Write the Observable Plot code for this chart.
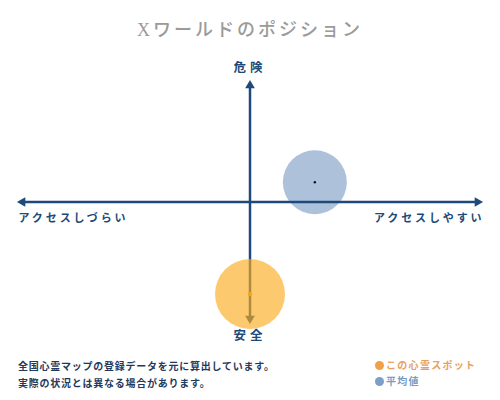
<!DOCTYPE html>
<html><head><meta charset="utf-8">
<script src="https://cdn.jsdelivr.net/npm/d3@7"></script>
<script src="https://cdn.jsdelivr.net/npm/@observablehq/plot@0.6"></script>
<style>
body{margin:0;width:500px;height:400px;background:#fff;overflow:hidden;font-family:"Liberation Serif","Noto Sans CJK JP",serif;}
#title{height:50px;text-align:center;font-size:18px;letter-spacing:3px;color:#9a9a9a;line-height:60px;font-weight:500;}
#chart{height:300px;}
#foot{position:relative;height:50px;font-family:"Noto Sans CJK JP",sans-serif;}
#note{position:absolute;left:18px;top:7px;font-size:10px;line-height:17px;letter-spacing:0.75px;color:#1f3a5c;font-weight:700;}
#legend{position:absolute;left:375px;top:7px;font-size:10px;line-height:16px;letter-spacing:1.3px;font-weight:700;}
.sw{display:inline-block;width:9px;height:9px;border-radius:50%;margin-right:2px;vertical-align:-1px;}
</style></head>
<body>
<div id="title">Xワールドのポジション</div>
<div id="chart"></div>
<div id="foot">
<div id="note">全国心霊マップの登録データを元に算出しています。<br>実際の状況とは異なる場合があります。</div>
<div id="legend"></div>
</div>
<script>
// --- data ---
const titleText = "Xワールドのポジション";
const axisExtent = [-1, 1];
const yLabels = ["危険", "安全"];          // top, bottom
const xLabels = ["アクセスしづらい", "アクセスしやすい"]; // left, right
const seriesNames = ["この心霊スポット", "平均値"];
const spotX = [0];      // this spot (access)
const spotY = [-0.79];  // this spot (danger)
const avgX = [0.285];   // average (access)
const avgY = [0.17];    // average (danger)
const noteLines = ["全国心霊マップの登録データを元に算出しています。", "実際の状況とは異なる場合があります。"];

const navy = "#1d4a78";
const orange = "#fcac20";
const blue = "#adc2da";

const spot = spotX.map((x, i) => ({x, y: spotY[i]}));
const avg = avgX.map((x, i) => ({x, y: avgY[i]}));
const arrowHeads = [
  {x: axisExtent[1], y: 0, rot: 90},
  {x: axisExtent[0], y: 0, rot: -90},
  {x: 0, y: axisExtent[1], rot: 0},
  {x: 0, y: axisExtent[0], rot: 180}
];

const chart = Plot.plot({
  width: 500,
  height: 300,
  marginLeft: 22,
  marginRight: 23,
  marginTop: 35,
  marginBottom: 32,
  x: {domain: axisExtent, axis: null},
  y: {domain: axisExtent, axis: null},
  style: {fontFamily: "'Noto Sans CJK JP', sans-serif", overflow: "visible"},
  marks: [
    Plot.dot(avg, {x: "x", y: "y", r: 32, fill: blue, stroke: "none"}),
    Plot.ruleY([0], {x1: axisExtent[0], x2: axisExtent[1], stroke: navy, strokeWidth: 2.5}),
    Plot.ruleX([0], {y1: axisExtent[0], y2: axisExtent[1], stroke: navy, strokeWidth: 2.5}),
    Plot.dot(arrowHeads, {x: "x", y: "y", rotate: "rot", symbol: "triangle", r: 3.6, fill: navy, stroke: "none"}),
    Plot.dot(spot, {x: "x", y: "y", r: 35, fill: orange, fillOpacity: 0.65, stroke: "none"}),
    Plot.dot(avg, {x: "x", y: "y", r: 1.2, fill: "#111", stroke: "none"}),
    Plot.dot(spot, {x: "x", y: "y", r: 2.2, fill: "#f5a31a", stroke: "none"}),
    Plot.text([yLabels[0]], {x: 0, y: axisExtent[1], text: d => d, dy: -18, fontSize: 12.5, fontWeight: 700, fill: navy}),
    Plot.text([yLabels[1]], {x: 0, y: axisExtent[0], text: d => d, dy: 17, fontSize: 12.5, fontWeight: 700, fill: navy}),
    Plot.text([xLabels[0]], {x: axisExtent[0], y: 0, text: d => d, dy: 16, dx: -4, textAnchor: "start", fontSize: 11, fontWeight: 700, fill: navy}),
    Plot.text([xLabels[1]], {x: axisExtent[1], y: 0, text: d => d, dy: 16, dx: 7, textAnchor: "end", fontSize: 11, fontWeight: 700, fill: navy})
  ]
});
chart.querySelectorAll("text").forEach(t => {
  const s = t.textContent.length <= 2 ? "4px" : "2.9px";
  t.setAttribute("letter-spacing", s);
});
document.getElementById("chart").appendChild(chart);

document.getElementById("title").textContent = titleText;
document.getElementById("note").innerHTML = noteLines.join("<br>");
const legendColors = ["#f0a048", "#7b9fc6"];
const textColors = ["#e8a060", "#7b9cc0"];
document.getElementById("legend").innerHTML = seriesNames.map((n, i) =>
  `<div style="color:${textColors[i]}"><span class="sw" style="background:${legendColors[i]}"></span>${n}</div>`).join("");
</script>
</body></html>
